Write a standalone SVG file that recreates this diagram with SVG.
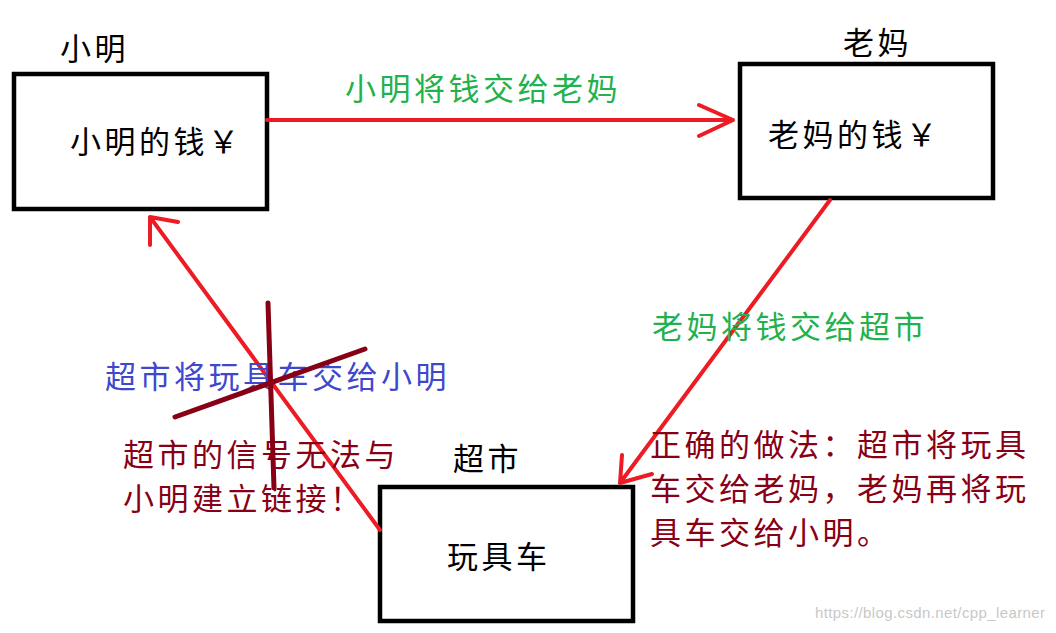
<svg xmlns="http://www.w3.org/2000/svg" width="1056" height="633" viewBox="0 0 1056 633">
<style>
.box{fill:#fff;stroke:#000;stroke-width:4.5}
.t{font-family:"Noto Sans CJK SC","Noto Sans",sans-serif;font-size:31px;letter-spacing:3.5px}
.blk{fill:#000}
.grn{fill:#22b14c}
.blu{fill:#3f48cc}
.dr{fill:#880015}
.arr{stroke:#ed1c24;stroke-width:4;fill:none;stroke-linecap:round;stroke-linejoin:round}
.x{stroke:#880015;stroke-width:5;stroke-linecap:round}
</style>
<rect width="1056" height="633" fill="#fff"/>
<g id="xiaoming">
<rect class="box" x="14" y="74" width="253" height="135"/>
<text class="t blk" x="60" y="60">小明</text>
<text class="t blk" x="70" y="153">小明的钱￥</text>
</g>
<g id="laoma">
<rect class="box" x="740" y="64" width="253" height="134"/>
<text class="t blk" x="843" y="54">老妈</text>
<text class="t blk" x="768" y="146">老妈的钱￥</text>
</g>
<g id="chaoshi">
<rect class="box" x="380" y="487" width="253" height="134"/>
<text class="t blk" x="453" y="470">超市</text>
<text class="t blk" x="447" y="568">玩具车</text>
</g>
<g id="connectors">
<path class="arr" d="M267,120 H733 M699,105 L733,120 L699,136"/>
<path class="arr" d="M830,200 L620,483 M622,455 L620,483 L652,474"/>
<path class="arr" d="M380,530 L150,217 M150,245 L150,217 L178,222"/>
</g>
<g id="labels">
<text class="t grn" x="345" y="100">小明将钱交给老妈</text>
<text class="t grn" x="652" y="338">老妈将钱交给超市</text>
<text class="t blu" x="105" y="388">超市将玩具车交给小明</text>
<text class="t dr" x="123" y="466">超市的信号无法与</text>
<text class="t dr" x="123" y="510">小明建立链接！</text>
<text class="t dr" x="650" y="456">正确的做法：超市将玩具</text>
<text class="t dr" x="650" y="500">车交给老妈，老妈再将玩</text>
<text class="t dr" x="650" y="544">具车交给小明。</text>
</g>
<g id="cross">
<line class="x" x1="268" y1="303" x2="274" y2="488"/>
<line class="x" x1="175" y1="417" x2="365" y2="349"/>
</g>
<text x="815" y="618" font-family="Liberation Sans,sans-serif" font-size="15" textLength="230" fill="#c8c8c8">https://blog.csdn.net/cpp_learner</text>
</svg>
